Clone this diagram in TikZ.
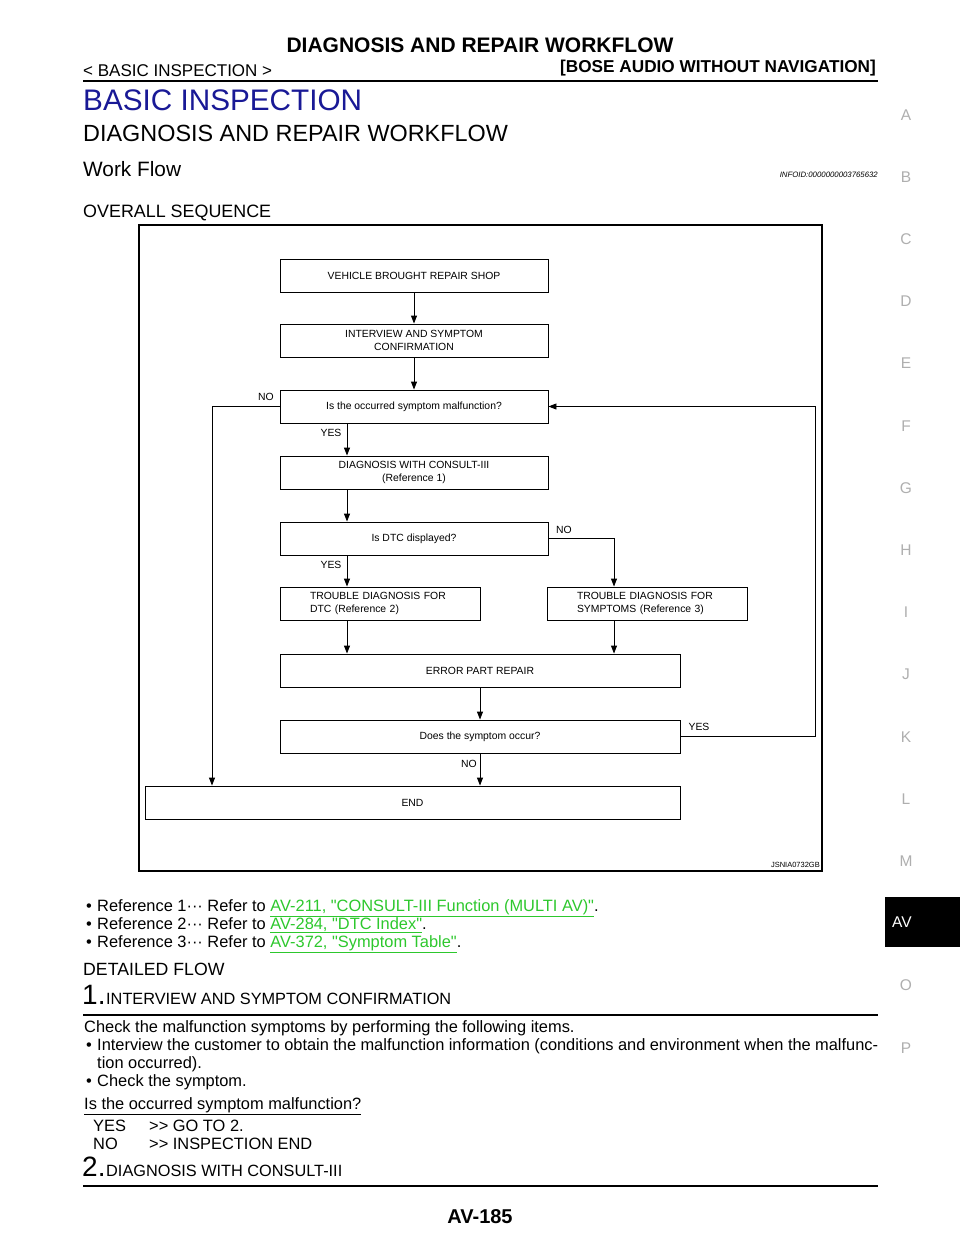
\documentclass[tikz,border=0pt]{standalone}
\usepackage{fontspec}
\setmainfont{Liberation Sans}[Ligatures=TeXOff]
\usetikzlibrary{arrows.meta}
\definecolor{headblue}{RGB}{25,25,150}
\definecolor{linkgreen}{RGB}{45,200,45}
\definecolor{tabgray}{RGB}{175,175,175}
\newcommand\pxfont[2]{\fontsize{#1}{#2}\selectfont}
\newcommand\link[1]{\textcolor{linkgreen}{\underline{#1}}}

\begin{document}
\begin{tikzpicture}[x=1pt, y=-1pt,
	box/.style={draw, line width=0.9pt, minimum height=33pt, inner sep=2pt, align=center, font=\pxfont{10.4}{13}},
	sidebox/.style={box, text width=140pt, inner xsep=30pt, align=left},
	arr/.style={line width=0.9pt, -{Triangle[length=8pt, width=6pt]}},
	lbl/.style={inner sep=0pt, font=\pxfont{10.4}{13}},
	txt/.style={inner sep=0pt, anchor=base west},
	tab/.style={inner sep=0pt, anchor=base, text=tabgray, font=\pxfont{15.5}{16}}]
			\fill[white] (0,0) rectangle (960,1242);
			\useasboundingbox (0,0) rectangle (960,1242);

			\node[inner sep=0pt, anchor=base, font=\pxfont{21}{24}\bfseries] (title) at (480,52) {DIAGNOSIS AND REPAIR WORKFLOW};
			\node[txt, font=\pxfont{17}{18}] (section) at (83,76) {< BASIC INSPECTION >};
			\node[inner sep=0pt, anchor=base east, font=\pxfont{17.2}{18}\bfseries] (model) at (876,72) {[BOSE AUDIO WITHOUT NAVIGATION]};
			\draw[line width=2.5pt] (83,81) -- (878,81);

			\node[txt, text=headblue, font=\pxfont{29.7}{30}] (chapter) at (83,110) {BASIC INSPECTION};
			\node[txt, font=\pxfont{23.4}{24}] (heading) at (83,141) {DIAGNOSIS AND REPAIR WORKFLOW};
			\node[txt, font=\pxfont{20.8}{21}] (workflow) at (83,176.5) {Work Flow};
			\node[inner sep=0pt, anchor=base east, font=\pxfont{7.8}{8}\itshape] (infoid) at (878,177) {INFOID:0000000003765632};
			\node[txt, font=\pxfont{17.9}{18}] (overall) at (83,217.5) {OVERALL SEQUENCE};

			\draw[line width=1.6pt] (139,225) rectangle (822,871);

			\node[box, minimum width=268pt] (shop) at (414,275.5) {VEHICLE BROUGHT REPAIR SHOP};
			\node[box, minimum width=268pt] (interview) at (414,340.5) {INTERVIEW AND SYMPTOM\\CONFIRMATION};
			\node[box, minimum width=268pt] (malfunc) at (414,406.5) {Is the occurred symptom malfunction?};
			\node[box, minimum width=268pt] (consult) at (414,472.5) {DIAGNOSIS WITH CONSULT-III\\(Reference 1)};
			\node[box, minimum width=268pt] (dtcq) at (414,538.5) {Is DTC displayed?};
			\node[sidebox] (dtcdiag) at (380,603.5) {TROUBLE DIAGNOSIS FOR\\DTC (Reference 2)};
			\node[sidebox] (symdiag) at (647,603.5) {TROUBLE DIAGNOSIS FOR\\SYMPTOMS (Reference 3)};
			\node[box, minimum width=400pt] (repair) at (480,670.5) {ERROR PART REPAIR};
			\node[box, minimum width=400pt] (occur) at (480,736.5) {Does the symptom occur?};
			\node[box, minimum width=535pt] (finish) at (412.5,802.5) {END};

			\coordinate (colL) at (347,0);
			\coordinate (colR) at (614,0);
			\coordinate (loopL) at (212,0);
			\coordinate (loopR) at (815,0);

			\draw[arr] (shop) -- (interview);
			\draw[arr] (interview) -- (malfunc);
			\draw[arr] (malfunc.south -| colL) -- (consult.north -| colL);
			\draw[arr] (consult.south -| colL) -- (dtcq.north -| colL);
			\draw[arr] (dtcq.south -| colL) -- (dtcdiag.north -| colL);
			\draw[arr] (dtcq.east) -| (symdiag.north -| colR);
			\draw[arr] (dtcdiag.south -| colL) -- (repair.north -| colL);
			\draw[arr] (symdiag.south -| colR) -- (repair.north -| colR);
			\draw[arr] (repair) -- (occur);
			\draw[arr] (occur.south) -- (occur.south |- finish.north);
			\draw[arr] (occur.east) -| (loopR |- malfunc.east) -- (malfunc.east);
			\draw[arr] (malfunc.west) -| (finish.north -| loopL);

			\node[lbl] (noA) at (266,397) {NO};
			\node[lbl] (yesA) at (331,433) {YES};
			\node[lbl] (yesB) at (331,565) {YES};
			\node[lbl] (noB) at (564,530) {NO};
			\node[lbl] (noC) at (469,764) {NO};
			\node[lbl] (yesC) at (699,727) {YES};
			\node[inner sep=0pt, anchor=base east, font=\pxfont{7.5}{8}] (figid) at (820,867.5) {JSNIA0732GB};

			\node[txt, font=\pxfont{16.4}{18}] (ref1) at (86,911) {•\hspace{5.3pt}Reference 1··· Refer to \link{AV-211, "CONSULT-III Function (MULTI AV)"}.};
			\node[txt, font=\pxfont{16.4}{18}] (ref2) at (86,929) {•\hspace{5.3pt}Reference 2··· Refer to \link{AV-284, "DTC Index"}.};
			\node[txt, font=\pxfont{16.4}{18}] (ref3) at (86,947) {•\hspace{5.3pt}Reference 3··· Refer to \link{AV-372, "Symptom Table"}.};

			\node[txt, font=\pxfont{17.7}{18}] (detailed) at (83,975) {DETAILED FLOW};
			\node[txt, font=\pxfont{28}{28}] (stepone) at (82,1004) {1.};
			\node[txt, font=\pxfont{16.3}{18}] (steponetitle) at (106,1004) {INTERVIEW AND SYMPTOM CONFIRMATION};
			\draw[line width=1.5pt] (83,1015) -- (878,1015);

			\node[txt, font=\pxfont{16.4}{18}] (check) at (84,1032) {Check the malfunction symptoms by performing the following items.};
			\node[txt, font=\pxfont{16.4}{18}] (bulletA) at (86,1050) {•};
			\node[txt, font=\pxfont{16.4}{18}] (askA) at (97,1050) {\makebox[781pt][s]{Interview the customer to obtain the malfunction information (conditions and environment when the malfunc-}};
			\node[txt, font=\pxfont{16.4}{18}] (askB) at (97,1068) {tion occurred).};
			\node[txt, font=\pxfont{16.4}{18}] (bulletB) at (86,1086) {•\hspace{5.3pt}Check the symptom.};
			\node[txt, font=\pxfont{16.4}{18}] (question) at (84,1109) {\underline{Is the occurred symptom malfunction?}};
			\node[txt, font=\pxfont{16.4}{18}] (yes) at (93,1131) {YES};
			\node[txt, font=\pxfont{16.4}{18}] (goto) at (149,1131) {>{}> GO TO 2.};
			\node[txt, font=\pxfont{16.4}{18}] (no) at (93,1149) {NO};
			\node[txt, font=\pxfont{16.4}{18}] (inspend) at (149,1149) {>{}> INSPECTION END};

			\node[txt, font=\pxfont{28}{28}] (steptwo) at (82,1176) {2.};
			\node[txt, font=\pxfont{16.3}{18}] (steptwotitle) at (106,1176) {DIAGNOSIS WITH CONSULT-III};
			\draw[line width=1.5pt] (83,1186) -- (878,1186);

			\node[inner sep=0pt, anchor=base, font=\pxfont{20}{20}\bfseries] (pageno) at (480,1223) {AV-185};

			\foreach \letter/\n in {A/0,B/1,C/2,D/3,E/4,F/5,G/6,H/7,I/8,J/9,K/10,L/11,M/12,O/14,P/15}
				\node[tab] at (906,{120+62.2*\n}) {\letter};
			\fill (885,897) rectangle (960,947);
			\node[tab, text=white] (avtab) at (902,927.5) {AV};
		\end{tikzpicture}
\end{document}
